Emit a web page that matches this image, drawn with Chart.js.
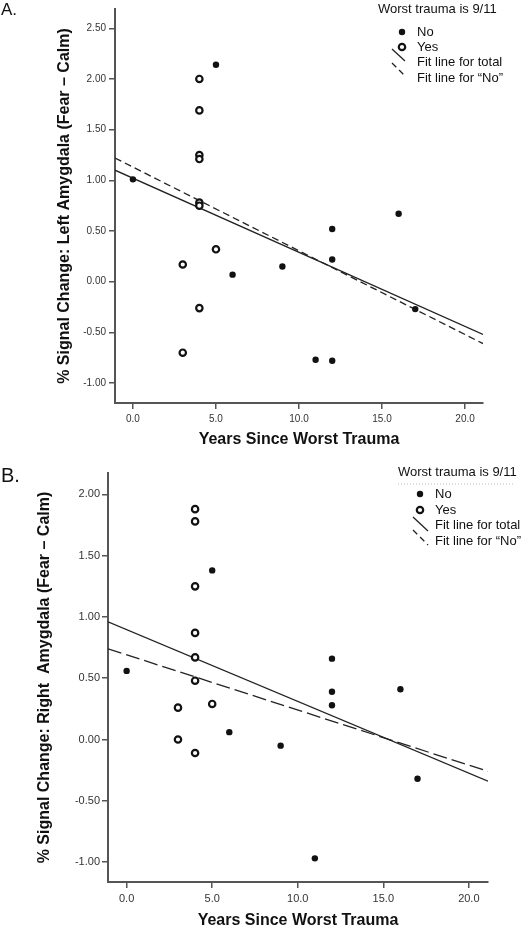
<!DOCTYPE html>
<html>
<head>
<title>Amygdala signal change and years since worst trauma</title>
<script src="https://cdn.jsdelivr.net/npm/chart.js@4.4.0/dist/chart.umd.min.js"></script>
<style>
  html, body { margin: 0; padding: 0; background: #fff; overflow: hidden; }
  .panel { position: absolute; left: 0; width: 523px; }
  #panelA { top: 0; height: 460px; }
  #panelB { top: 460px; height: 472px; }
</style>
</head>
<body>
<div class="panel" id="panelA"><canvas id="chartA"></canvas></div>
<div class="panel" id="panelB"><canvas id="chartB"></canvas></div>

<script>
// A. left amygdala
var leftNoYears = [0, 5, 6, 9, 11, 12, 12, 12, 16, 17];
var leftNoSignal = [1.01, 2.14, 0.07, 0.15, -0.77, 0.52, 0.22, -0.78, 0.67, -0.27];
var leftYesYears = [3, 3, 4, 4, 4, 4, 4, 4, 4, 5];
var leftYesSignal = [0.17, -0.70, 2.00, 1.69, 1.25, 1.21, 0.78, 0.75, -0.26, 0.32];
var leftFitYears = [-1.08, 21.08];
var leftFitTotal = [1.10, -0.52];
var leftFitNo = [1.22, -0.61];

// B. right amygdala
var rightNoYears = [0, 5, 6, 9, 11, 12, 12, 12, 16, 17];
var rightNoSignal = [0.56, 1.38, 0.06, -0.05, -0.97, 0.66, 0.39, 0.28, 0.41, -0.32];
var rightYesYears = [3, 3, 4, 4, 4, 4, 4, 4, 4, 5];
var rightYesSignal = [0.26, 0.00, 1.88, 1.78, 1.25, 0.87, 0.67, 0.48, -0.11, 0.29];
var rightFitYears = [-1.09, 21.12];
var rightFitTotal = [0.96, -0.34];
var rightFitNo = [0.74, -0.26];

var yearTicks = [0, 5, 10, 15, 20];
var leftSignalTicks = [-1, -0.5, 0, 0.5, 1, 1.5, 2, 2.5];
var rightSignalTicks = [-1, -0.5, 0, 0.5, 1, 1.5, 2];

var seriesLabels = ['No', 'Yes', 'Fit line for total', 'Fit line for \u201cNo\u201d'];
var keyTitle = 'Worst trauma is 9/11';

var fam = '"Liberation Sans", Arial, sans-serif';
Chart.defaults.font.family = fam;

function pairs(xs, ys) {
    return xs.map(function (x, i) { return { x: x, y: ys[i] }; });
}

// draws panel letter and the key in the top right corner
var keyBox = {
    id: 'keyBox',
    afterDraw: function (chart, args, o) {
        var ctx = chart.ctx;
        ctx.save();
        ctx.fillStyle = '#111';
        ctx.textAlign = 'left';
        ctx.textBaseline = 'alphabetic';
        ctx.font = o.tagSize + 'px ' + fam;
        ctx.fillText(o.tag, o.tagX, o.tagY);

        ctx.font = '13px ' + fam;
        ctx.textBaseline = 'middle';
        ctx.fillText(keyTitle, o.titleX, o.titleY);

        if (o.rule) {
            ctx.strokeStyle = '#bbb';
            ctx.lineWidth = 1;
            ctx.setLineDash([1, 2]);
            ctx.beginPath();
            ctx.moveTo(o.titleX, o.titleY + 12);
            ctx.lineTo(o.titleX + 116, o.titleY + 12);
            ctx.stroke();
        }

        chart.data.datasets.forEach(function (ds, i) {
            var y = o.rows[i];
            ctx.fillStyle = '#111';
            ctx.fillText(ds.label, o.textX, y);
            if (ds.showLine) {
                var s = o.strokes[i - 2];
                ctx.strokeStyle = ds.borderColor;
                ctx.lineWidth = ds.borderWidth;
                ctx.setLineDash(ds.borderDash ? [6, 4] : []);
                ctx.beginPath();
                ctx.moveTo(s[0], s[1]);
                ctx.lineTo(s[2], s[3]);
                ctx.stroke();
            } else {
                ctx.setLineDash([]);
                ctx.beginPath();
                ctx.arc(o.symX, y, ds.pointRadius, 0, Math.PI * 2);
                ctx.fillStyle = ds.pointBackgroundColor;
                ctx.fill();
                if (ds.pointBorderWidth) {
                    ctx.lineWidth = ds.pointBorderWidth;
                    ctx.strokeStyle = ds.pointBorderColor;
                    ctx.stroke();
                }
            }
        });
        ctx.restore();
    }
};

function buildChart(id, p) {
    return new Chart(document.getElementById(id), {
        type: 'scatter',
        data: {
            datasets: [
                {
                    label: seriesLabels[0], data: pairs(p.noX, p.noY),
                    pointRadius: 3.2, pointBackgroundColor: '#111', pointBorderColor: '#111', pointBorderWidth: 0
                },
                {
                    label: seriesLabels[1], data: pairs(p.yesX, p.yesY),
                    pointRadius: 3.2, pointBackgroundColor: '#fff', pointBorderColor: '#111', pointBorderWidth: 2.2
                },
                {
                    label: seriesLabels[2], data: pairs(p.fitX, p.fitTotal),
                    showLine: true, pointRadius: 0, borderColor: '#222', borderWidth: 1.3
                },
                {
                    label: seriesLabels[3], data: pairs(p.fitX, p.fitNo),
                    showLine: true, pointRadius: 0, borderColor: '#222', borderWidth: 1.3, borderDash: p.dash
                }
            ]
        },
        options: {
            responsive: true,
            maintainAspectRatio: false,
            animation: false,
            events: [],
            layout: { padding: { left: 0, right: p.padRight, top: p.padTop, bottom: 0 } },
            plugins: {
                legend: { display: false },
                tooltip: { enabled: false },
                keyBox: p.key
            },
            scales: {
                x: {
                    type: 'linear',
                    min: p.fitX[0],
                    max: p.fitX[1],
                    afterBuildTicks: function (s) { s.ticks = yearTicks.map(function (v) { return { value: v }; }); },
                    afterFit: function (s) { s.height = p.xHeight; },
                    ticks: {
                        callback: function (v) { return v.toFixed(1); },
                        font: { size: p.tickSize }, color: '#333', padding: p.xTickPad,
                        maxRotation: 0, autoSkip: false
                    },
                    grid: { drawOnChartArea: false, drawTicks: true, tickLength: 6, color: '#555', lineWidth: 1.5 },
                    border: { display: true, color: '#555', width: 2 },
                    title: {
                        display: true, text: 'Years Since Worst Trauma', color: '#111',
                        font: { size: 16, weight: 'bold' }, padding: { top: 0, bottom: p.xTitlePad }
                    }
                },
                y: {
                    type: 'linear',
                    min: p.yMin,
                    max: p.yMax,
                    afterBuildTicks: function (s) { s.ticks = p.yTicks.map(function (v) { return { value: v }; }); },
                    afterFit: function (s) { s.width = p.yWidth; },
                    ticks: {
                        callback: function (v) { return v.toFixed(2); },
                        font: { size: p.tickSize }, color: '#333', padding: p.yTickPad, autoSkip: false
                    },
                    grid: { drawOnChartArea: false, drawTicks: true, tickLength: 6, color: '#555', lineWidth: 1.5 },
                    border: { display: true, color: '#555', width: 2 },
                    title: {
                        display: true, text: p.yTitle, color: '#111',
                        font: { size: 16, weight: 'bold' }, padding: { top: p.yTitlePad, bottom: 0 }
                    }
                }
            }
        },
        plugins: [keyBox]
    });
}

buildChart('chartA', {
    noX: leftNoYears, noY: leftNoSignal, yesX: leftYesYears, yesY: leftYesSignal,
    fitX: leftFitYears, fitTotal: leftFitTotal, fitNo: leftFitNo, dash: [7, 4],
    yMin: -1.196, yMax: 2.69, yTicks: leftSignalTicks,
    yTitle: '% Signal Change: Left Amygdala (Fear \u2013 Calm)',
    padRight: 40, padTop: 7, xHeight: 57, yWidth: 115,
    tickSize: 10, xTickPad: 4, yTickPad: 3, xTitlePad: 10.4, yTitlePad: 55.4,
    key: {
        tag: 'A.', tagSize: 17, tagX: 1, tagY: 15,
        titleX: 378, titleY: 9, rule: false,
        rows: [32, 47, 62, 78], textX: 417, symX: 402,
        strokes: [[392, 49, 405, 61], [392, 63, 405, 76]]
    }
});

buildChart('chartB', {
    noX: rightNoYears, noY: rightNoSignal, yesX: rightYesYears, yesY: rightYesSignal,
    fitX: rightFitYears, fitTotal: rightFitTotal, fitNo: rightFitNo, dash: [14, 5],
    yMin: -1.163, yMax: 2.175, yTicks: rightSignalTicks,
    yTitle: '% Signal Change: Right  Amygdala (Fear \u2013 Calm)',
    padRight: 35, padTop: 13, xHeight: 50, yWidth: 108,
    tickSize: 11, xTickPad: 4.5, yTickPad: 2, xTitlePad: 1.4, yTitlePad: 35.4,
    key: {
        tag: 'B.', tagSize: 20, tagX: 1, tagY: 22,
        titleX: 398, titleY: 12, rule: true,
        rows: [34, 50, 65, 81], textX: 435, symX: 420,
        strokes: [[413, 57, 428, 71], [413, 70, 428, 85]]
    }
});
</script>
</body>
</html>
